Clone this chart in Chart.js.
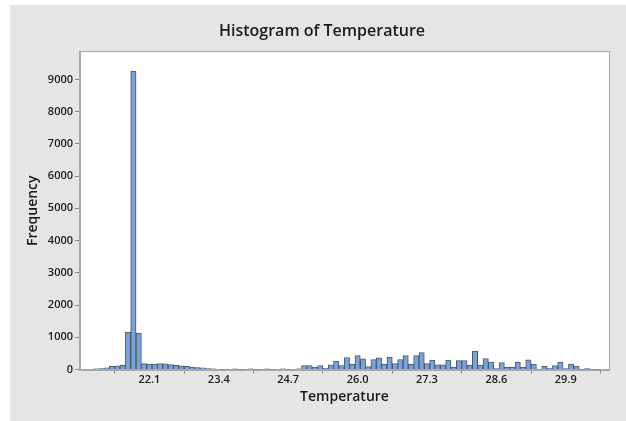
<!DOCTYPE html>
<html><head><meta charset="utf-8">
<script src="https://cdn.jsdelivr.net/npm/chart.js@4/dist/chart.umd.min.js"></script>
<style>html,body{margin:0;padding:0;background:#fff;}canvas{display:block;}</style>
</head><body>
<canvas id="c" width="626" height="421"></canvas>
<script>
const chartTitle = 'Histogram of Temperature';
const xTitle = 'Temperature';
const yTitle = 'Frequency';
const binMidpoints = [
  21.0, 21.1, 21.2, 21.3, 21.4, 21.5, 21.6, 21.7, 21.8, 21.9,
  22.0, 22.1, 22.2, 22.3, 22.4, 22.5, 22.6, 22.7, 22.8, 22.9,
  23.0, 23.1, 23.2, 23.3, 23.4, 23.5, 23.6, 23.7, 23.8, 23.9,
  24.0, 24.1, 24.2, 24.3, 24.4, 24.5, 24.6, 24.7, 24.8, 24.9,
  25.0, 25.1, 25.2, 25.3, 25.4, 25.5, 25.6, 25.7, 25.8, 25.9,
  26.0, 26.1, 26.2, 26.3, 26.4, 26.5, 26.6, 26.7, 26.8, 26.9,
  27.0, 27.1, 27.2, 27.3, 27.4, 27.5, 27.6, 27.7, 27.8, 27.9,
  28.0, 28.1, 28.2, 28.3, 28.4, 28.5, 28.6, 28.7, 28.8, 28.9,
  29.0, 29.1, 29.2, 29.3, 29.4, 29.5, 29.6, 29.7, 29.8, 29.9,
  30.0, 30.1, 30.2, 30.3, 30.4, 30.5
];
const frequencies = [
  15, 20, 25, 50, 95, 115, 135, 1160, 9260, 1130,
  180, 165, 165, 180, 175, 150, 130, 115, 95, 75,
  60, 50, 30, 20, 15, 5, 15, 20, 5, 15,
  20, 5, 15, 20, 5, 15, 20, 5, 15, 20,
  125, 125, 72, 125, 40, 145, 258, 125, 372, 165,
  434, 330, 93, 310, 362, 165, 382, 186, 310, 434,
  165, 434, 527, 186, 290, 145, 145, 290, 72, 280,
  280, 135, 568, 140, 341, 232, 25, 217, 72, 72,
  232, 72, 300, 165, 10, 98, 35, 125, 232, 25,
  170, 103, 5, 31, 5, 5
];
const xTickValues = [22.1, 23.4, 24.7, 26.0, 27.3, 28.6, 29.9];
const yTickValues = [0, 1000, 2000, 3000, 4000, 5000, 6000, 7000, 8000, 9000];

const FONT = '"Open Sans", "Noto Sans", sans-serif';
const TEXT = '#1a1a1a';

const panelPlugin = {
  id: 'panel',
  afterLayout(chart) {
    const tb = chart.titleBlock;
    if (tb) { tb.left = 10; tb.right = 634; tb.width = 624; }
  },
  beforeDraw(chart) {
    const ctx = chart.ctx, a = chart.chartArea;
    ctx.save();
    ctx.fillStyle = '#ffffff';
    ctx.fillRect(0, 0, chart.width, chart.height);
    ctx.fillStyle = '#E5E5E5';
    ctx.fillRect(10, 5, chart.width - 10, chart.height - 5);
    ctx.fillStyle = '#ffffff';
    ctx.fillRect(a.left, a.top, a.right - a.left, a.bottom - a.top);
    ctx.restore();
  },
  afterDraw(chart) {
    const ctx = chart.ctx, a = chart.chartArea;
    ctx.save();
    ctx.strokeStyle = '#A8A8A8';
    ctx.lineWidth = 1;
    ctx.strokeRect(Math.round(a.left) - 0.5, Math.round(a.top) - 0.5, Math.round(a.right - a.left) + 1, Math.round(a.bottom - a.top) + 1);
    ctx.restore();
  }
};

new Chart(document.getElementById('c'), {
  type: 'bar',
  data: {
    datasets: [{
      data: binMidpoints.map((x, i) => ({ x: x, y: frequencies[i] })),
      backgroundColor: '#78A2D8',
      borderColor: '#4B5666',
      borderWidth: 1,
      barPercentage: 1,
      categoryPercentage: 1
    }]
  },
  plugins: [panelPlugin],
  options: {
    responsive: false,
    animation: false,
    devicePixelRatio: 1,
    layout: { padding: { left: 10, right: 17, top: 0, bottom: 16 } },
    plugins: {
      legend: { display: false },
      tooltip: { enabled: false },
      title: {
        display: true,
        text: chartTitle,
        color: TEXT,
        font: { family: FONT, size: 16, weight: '600' },
        padding: { top: 21.4, bottom: 11.4 }
      }
    },
    scales: {
      x: {
        type: 'linear',
        offset: false,
        min: 20.8,
        max: 30.71,
        afterBuildTicks(scale) { scale.ticks = xTickValues.map(v => ({ value: v })); },
        afterFit(scale) { scale.height = 35.5; },
        ticks: {
          autoSkip: false, maxRotation: 0, padding: 0,
          color: TEXT,
          font: { family: FONT, size: 11, weight: '600' },
          callback: v => Number(v).toFixed(1)
        },
        grid: { display: true, drawOnChartArea: false, drawTicks: true, tickLength: 4, color: '#8A8A8A' },
        border: { display: true, color: '#A8A8A8' },
        title: {
          display: true, text: xTitle, color: TEXT,
          font: { family: FONT, size: 14, weight: '600' },
          padding: { top: 0, bottom: 0 }
        }
      },
      y: {
        min: 0,
        max: 9850,
        afterBuildTicks(scale) { scale.ticks = yTickValues.map(v => ({ value: v })); },
        afterFit(scale) { scale.width = 70; },
        ticks: {
          autoSkip: false, padding: 2,
          color: TEXT,
          font: { family: FONT, size: 11, weight: '600' },
          callback: v => String(v)
        },
        grid: { display: true, drawOnChartArea: false, drawTicks: true, tickLength: 5, color: '#8A8A8A' },
        border: { display: true, color: '#A8A8A8' },
        title: {
          display: true, text: yTitle, color: TEXT,
          font: { family: FONT, size: 14, weight: '600' },
          padding: { top: 14.6, bottom: 0 }
        }
      }
    }
  }
});
</script>
</body></html>
